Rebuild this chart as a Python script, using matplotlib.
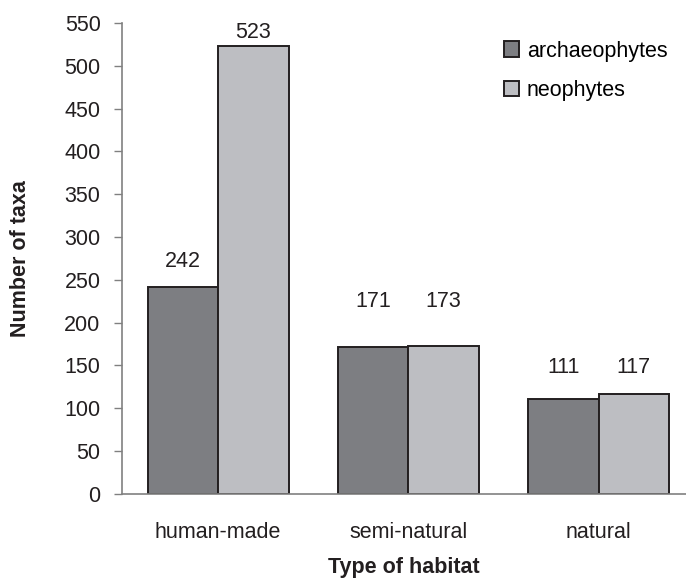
import numpy as np
import matplotlib.pyplot as plt

habitats = ['human-made', 'semi-natural', 'natural']
archaeophytes = [242, 171, 111]
neophytes = [523, 173, 117]
series_names = ['archaeophytes', 'neophytes']

# where the value labels sit (data units), as placed in the original
label_y_arch = [271, 225, 148]
label_y_neo = [539, 225, 148]

plt.rcParams['font.family'] = ['Liberation Sans', 'DejaVu Sans']
fs = 15.5

fig = plt.figure(figsize=(6.86, 5.88), dpi=100)
ax = fig.add_axes([0.178, 0.160, 0.822, 0.801])

x = np.arange(len(habitats))
w = 0.37
dark = '#7d7e82'
light = '#bdbec2'
edge = '#231f20'

b1 = ax.bar(x - w / 2, archaeophytes, w, color=dark, edgecolor=edge, linewidth=1.4, label=series_names[0])
b2 = ax.bar(x + w / 2, neophytes, w, color=light, edgecolor=edge, linewidth=1.4, label=series_names[1])

for bars, ly in ((b1, label_y_arch), (b2, label_y_neo)):
    for r, y in zip(bars, ly):
        ax.text(r.get_x() + r.get_width() / 2, y, f'{int(r.get_height())}',
                ha='center', va='center', fontsize=fs, color='#231f20')

ax.set_xlim(-0.505, 2.46)
ax.set_ylim(0, 550)
ax.set_yticks(range(0, 551, 50))
ax.set_xticks(x)
ax.set_xticklabels(habitats)
ax.tick_params(axis='x', length=0, pad=20, labelsize=fs, colors='#231f20')
ax.tick_params(axis='y', direction='out', length=6, width=1, color='#808080', labelsize=fs, labelcolor='#231f20', pad=9.5)

for s in ('top', 'right'):
    ax.spines[s].set_visible(False)
for s in ('left', 'bottom'):
    ax.spines[s].set_color('#808080')
    ax.spines[s].set_linewidth(1.2)

ax.set_ylabel('Number of taxa', fontsize=fs, fontweight='bold', color='#231f20')
ax.set_xlabel('Type of habitat', fontsize=fs, fontweight='bold', color='#231f20')
ax.yaxis.set_label_coords(-0.18, 0.5)
ax.xaxis.set_label_coords(0.5, -0.157)
ax.xaxis.label.set_va('center')
ax.yaxis.label.set_va('center')

ax.legend(loc='upper right', bbox_to_anchor=(0.99, 0.99), frameon=False, fontsize=fs,
          handlelength=0.7, handleheight=0.7, handletextpad=0.35, labelspacing=0.85,
          borderaxespad=0.2)

fig.savefig('out.png', dpi=100)
